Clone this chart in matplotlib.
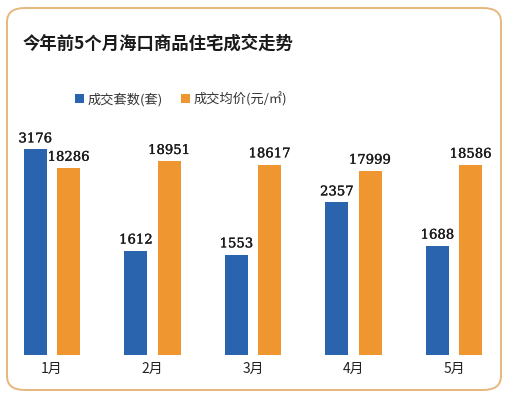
import matplotlib
matplotlib.use("Agg")
import matplotlib.pyplot as plt
import matplotlib.patheffects as pe
import numpy as np
from matplotlib.patches import FancyBboxPatch

plt.rcParams['font.family'] = ['Noto Sans CJK SC', 'DejaVu Sans']

# donnees
months = ["1月", "2月", "3月", "4月", "5月"]
sets_sold = [3176, 1612, 1553, 2357, 1688]
avg_price = [18286, 18951, 18617, 17999, 18586]
title = "今年前5个月海口商品住宅成交走势"
label_sets = "成交套数(套)"
label_price = "成交均价(元/㎡)"

BLUE = "#2a64ae"
ORANGE = "#ef9630"
W, H = 508, 399

fig = plt.figure(figsize=(W / 100, H / 100), dpi=100)
fig.patch.set_facecolor("white")

# cadre arrondi (sous les axes)
frame = FancyBboxPatch((7 / W, 9 / H), 494 / W, 382 / H,
                       boxstyle="round,pad=0,rounding_size=0.035",
                       transform=fig.transFigure, facecolor="white",
                       edgecolor="#e6b87e", linewidth=1.4, zorder=-1)
fig.patches.append(frame)

# axes: base a 355 px du haut, 220 px de haut
ax = fig.add_axes([1.75 / W, (H - 355) / H, 502.5 / W, 220 / H])
ax2 = ax.twinx()
for a in (ax, ax2):
    a.set_facecolor("none")
    for s in a.spines.values():
        s.set_visible(False)
    a.tick_params(left=False, right=False, bottom=False,
                  labelleft=False, labelright=False)

x = np.arange(len(months))
off, bw = 0.165, 0.23
b1 = ax.bar(x - off, sets_sold, bw, color=BLUE, label=label_sets)
b2 = ax2.bar(x + off, avg_price, bw, color=ORANGE, label=label_price)
ax.set_xlim(-0.5, 4.5)
ax.set_ylim(0, 3400)
ax2.set_ylim(0, 21500)

ax.set_xticks(x)
ax.set_xticklabels(months, fontsize=10, color="#222222")
ax.tick_params(axis="x", pad=1.5)

# epaissir un peu les chiffres
thick = [pe.withStroke(linewidth=0.25, foreground="#1a1a1a")]
for rect, v in zip(b1, sets_sold):
    ax.annotate(str(v), (rect.get_x() + rect.get_width() / 2, v),
                xytext=(0, 3), textcoords="offset points", ha="center",
                va="bottom", fontsize=9.5, family="DejaVu Serif",
                color="#1a1a1a", path_effects=thick)
for rect, v in zip(b2, avg_price):
    ax2.annotate(str(v), (rect.get_x() + rect.get_width() / 2, v),
                 xytext=(0, 3), textcoords="offset points", ha="center",
                 va="bottom", fontsize=9.5, family="DejaVu Serif",
                 color="#1a1a1a", path_effects=thick)

fig.text(23 / W, 1 - 44 / H, title, fontsize=12.5, fontweight="bold",
         va="center", ha="left", color="#1a1a1a")

fig.legend(handles=[b1, b2], loc="center left",
           bbox_to_anchor=(63 / W, 1 - 99 / H), ncol=2, frameon=False,
           fontsize=9.5, handlelength=0.7, handleheight=0.7,
           handletextpad=0.25, columnspacing=1.4, labelcolor="#333333")

fig.savefig("out.png", dpi=100)
